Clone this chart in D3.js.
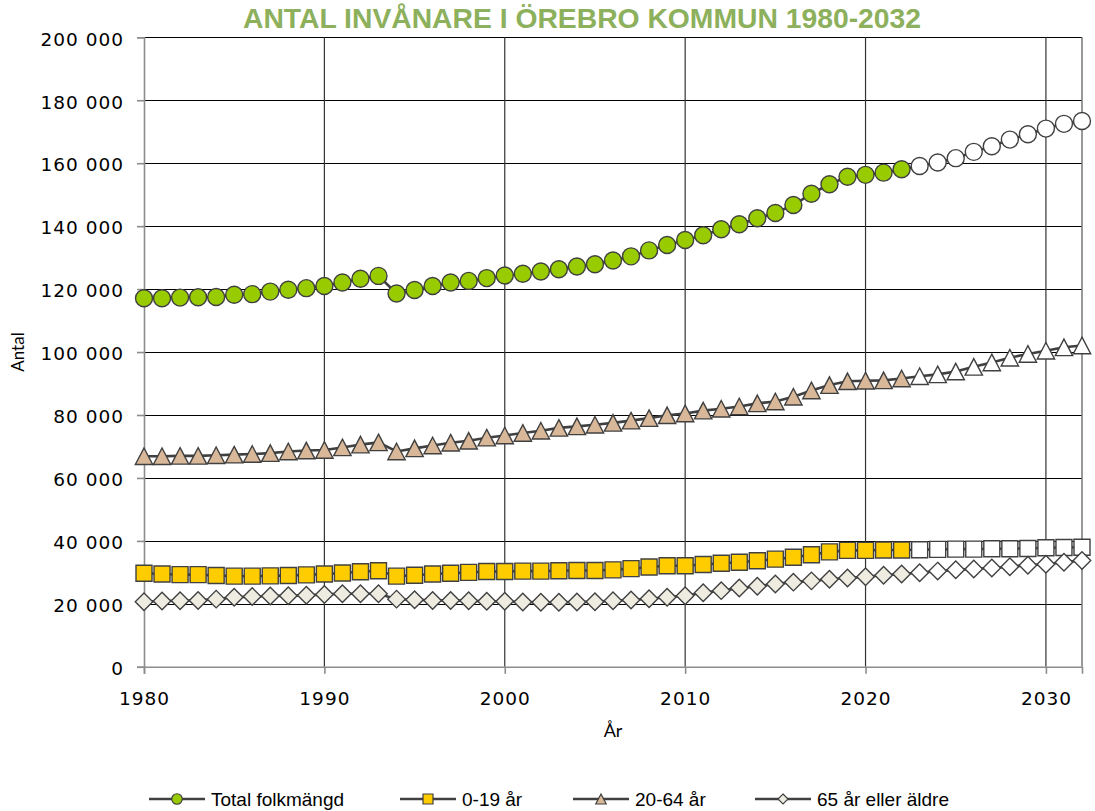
<!DOCTYPE html>
<html>
<head>
<meta charset="utf-8">
<script src="https://cdn.jsdelivr.net/npm/d3@7"></script>
<style>
  body { margin: 0; background: #fff; }
  svg { display: block; }
  .tick text { font-family: "DejaVu Sans", sans-serif; font-size: 18.5px; letter-spacing: 1px; fill: #000; }
</style>
</head>
<body>
<div id="chart"></div>
<script>
// years on the x axis
const years = [1980, 1981, 1982, 1983, 1984, 1985, 1986, 1987, 1988, 1989,
  1990, 1991, 1992, 1993, 1994, 1995, 1996, 1997, 1998, 1999,
  2000, 2001, 2002, 2003, 2004, 2005, 2006, 2007, 2008, 2009,
  2010, 2011, 2012, 2013, 2014, 2015, 2016, 2017, 2018, 2019,
  2020, 2021, 2022, 2023, 2024, 2025, 2026, 2027, 2028, 2029,
  2030, 2031, 2032];
const firstPrognosYear = 2023;

const total = [117100, 117100, 117300, 117400, 117500, 118200, 118400, 119200, 119800, 120300,
  121000, 122100, 123300, 124200, 118600, 119700, 121000, 122100, 122600, 123500,
  124300, 124900, 125600, 126300, 127200, 127900, 129100, 130400, 132300, 134000,
  135600, 137100, 139000, 140600, 142500, 144200, 146700, 150300, 153300, 155700,
  156300, 157000, 158100, 159100, 160200, 161600, 163600, 165400, 167500, 169200,
  171000, 172500, 173400];
const age0_19 = [29700, 29500, 29300, 29300, 29000, 28800, 28800, 28900, 29000, 29200,
  29500, 29800, 30200, 30500, 28800, 29100, 29500, 29700, 30000, 30300,
  30300, 30400, 30400, 30500, 30600, 30600, 30800, 31200, 31700, 32100,
  32100, 32500, 32900, 33200, 33700, 34200, 34800, 35600, 36500, 37000,
  37000, 37100, 37100, 37200, 37300, 37400, 37400, 37500, 37500, 37600,
  37800, 37900, 38000];
const age20_64 = [66900, 66900, 67000, 67000, 67200, 67400, 67600, 67900, 68400, 68700,
  68900, 69700, 70600, 71300, 68400, 69400, 70300, 71200, 71800, 72800,
  73500, 74300, 75000, 75900, 76400, 76900, 77500, 78200, 79000, 79900,
  80500, 81400, 82000, 82700, 83700, 84300, 85800, 87800, 89500, 90700,
  90900, 91000, 91600, 92300, 92900, 93800, 95300, 96700, 98200, 99400,
  100400, 101500, 102100];
const age65 = [20700, 20900, 21000, 21100, 21500, 22100, 22300, 22500, 22600, 22700,
  23000, 23200, 23200, 23200, 21500, 21300, 21100, 21100, 21000, 20800,
  20800, 20600, 20500, 20500, 20600, 20700, 21000, 21200, 21600, 22100,
  22600, 23500, 24200, 25000, 25600, 26300, 26900, 27300, 27800, 28200,
  28600, 29100, 29500, 29900, 30400, 30800, 31100, 31400, 31800, 32300,
  32600, 33200, 33800];

const seriesNames = ['Total folkmängd', '0-19 år', '20-64 år', '65 år eller äldre'];
const yTicks = [0, 20000, 40000, 60000, 80000, 100000, 120000, 140000, 160000, 180000, 200000];
const xTicks = [1980, 1990, 2000, 2010, 2020, 2030];

const title = 'ANTAL INVÅNARE I ÖREBRO KOMMUN 1980-2032';

const width = 1095, height = 811;
const plotLeft = 144, plotRight = 1082, plotTop = 37.3, plotBottom = 666.8;

const svg = d3.select('#chart').append('svg')
  .attr('width', width)
  .attr('height', height);

const x = d3.scaleLinear().domain([1980, 2032]).range([plotLeft, plotRight]);
const y = d3.scaleLinear().domain([0, 200000]).range([plotBottom, plotTop]);

const locale = d3.formatLocale({ decimal: ',', thousands: ' ', grouping: [3], currency: ['', ' kr'] });
const fmt = locale.format(',');

// grid
const grid = svg.append('g');
grid.selectAll('.hg').data(yTicks.filter(d => d > 0)).enter().append('line')
  .attr('x1', plotLeft).attr('x2', plotRight)
  .attr('y1', d => Math.round(y(d)) + 0.5).attr('y2', d => Math.round(y(d)) + 0.5)
  .attr('stroke', '#000').attr('stroke-width', 1);
grid.selectAll('.vg').data(xTicks.filter(d => d > 1980)).enter().append('line')
  .attr('x1', d => x(d)).attr('x2', d => x(d))
  .attr('y1', plotTop).attr('y2', plotBottom)
  .attr('stroke', '#333').attr('stroke-width', 1.2);
// right border
grid.append('line')
  .attr('x1', x(2032)).attr('x2', x(2032))
  .attr('y1', plotTop).attr('y2', plotBottom)
  .attr('stroke', '#777').attr('stroke-width', 1.5);

// axes
const yAxis = svg.append('g')
  .attr('transform', `translate(${plotLeft},0)`)
  .call(d3.axisLeft(y).tickValues(yTicks).tickFormat(fmt).tickSize(7).tickPadding(13));
const xAxis = svg.append('g')
  .attr('transform', `translate(0,${plotBottom})`)
  .call(d3.axisBottom(x).tickValues(xTicks).tickFormat(d3.format('d')).tickSize(7).tickPadding(15));
[yAxis, xAxis].forEach(a => {
  a.select('.domain').attr('stroke', '#8c8c8c').attr('stroke-width', 1.6);
  a.selectAll('.tick line').attr('stroke', '#8c8c8c').attr('stroke-width', 1.6);
});
yAxis.selectAll('.tick text').attr('dy', '0.42em');
xAxis.selectAll('.tick text').attr('dy', '0.9em');

// axis titles
svg.append('text')
  .attr('transform', `translate(24,${(plotTop + plotBottom) / 2}) rotate(-90)`)
  .attr('text-anchor', 'middle')
  .style('font-family', 'Lato, "Liberation Sans", sans-serif')
  .style('font-size', '17px')
  .text('Antal');
svg.append('text')
  .attr('x', (plotLeft + plotRight) / 2).attr('y', 737)
  .attr('text-anchor', 'middle')
  .style('font-family', 'Lato, "Liberation Sans", sans-serif')
  .style('font-size', '18px')
  .text('År');

// title
svg.append('text')
  .attr('x', 582).attr('y', 28)
  .attr('text-anchor', 'middle')
  .attr('textLength', 678).attr('lengthAdjust', 'spacingAndGlyphs')
  .style('font-family', '"Liberation Sans", Arial, sans-serif')
  .style('font-weight', 'bold')
  .style('font-size', '28px')
  .style('fill', '#8cb05b')
  .text(title);

// marker shapes
const shapes = {
  circle: s => { const r = s / 2; return `M${-r},0A${r},${r} 0 1,0 ${r},0A${r},${r} 0 1,0 ${-r},0Z`; },
  square: s => { const h = s / 2; return `M${-h},${-h}H${h}V${h}H${-h}Z`; },
  triangle: s => { const h = s / 2; return `M0,${-h}L${h * 1.05},${h}L${-h * 1.05},${h}Z`; },
  diamond: s => { const h = s / 2; return `M0,${-h}L${h},0L0,${h}L${-h},0Z`; }
};

const series = [
  { name: seriesNames[0], values: total, shape: 'circle', fill: '#99cc00', size: 17 },
  { name: seriesNames[1], values: age0_19, shape: 'square', fill: '#ffcc00', size: 16 },
  { name: seriesNames[2], values: age20_64, shape: 'triangle', fill: '#d8b899', size: 16.5 },
  { name: seriesNames[3], values: age65, shape: 'diamond', fill: '#eeece1', size: 17.5 }
];

const line = d3.line().x((d, i) => x(years[i])).y(d => y(d));
const lineColor = '#404040';

series.forEach(s => {
  const g = svg.append('g');
  g.append('path')
    .attr('d', line(s.values))
    .attr('fill', 'none')
    .attr('stroke', lineColor)
    .attr('stroke-width', 2.6);
  g.selectAll('path.m').data(s.values).enter().append('path')
    .attr('class', 'm')
    .attr('transform', (d, i) => `translate(${x(years[i])},${y(d)})`)
    .attr('d', shapes[s.shape](s.size))
    .attr('fill', (d, i) => years[i] >= firstPrognosYear ? '#fff' : s.fill)
    .attr('stroke', lineColor)
    .attr('stroke-width', 1.4);
});

// legend
const legendX = [149, 400, 573, 755];
const legendSizes = [10.5, 10, 10, 10];
const legendY = 799;
series.forEach((s, i) => {
  const g = svg.append('g').attr('transform', `translate(${legendX[i]},${legendY})`);
  g.append('line').attr('x1', 0).attr('x2', 56).attr('stroke', lineColor).attr('stroke-width', 2.6);
  g.append('path')
    .attr('transform', 'translate(28,0)')
    .attr('d', shapes[s.shape](legendSizes[i]))
    .attr('fill', s.fill)
    .attr('stroke', lineColor)
    .attr('stroke-width', 1.2);
  g.append('text')
    .attr('x', 62).attr('y', 6.5)
    .style('font-family', '"Liberation Sans", Arial, sans-serif')
    .style('font-size', '19px')
    .text(s.name);
});
</script>
</body>
</html>
